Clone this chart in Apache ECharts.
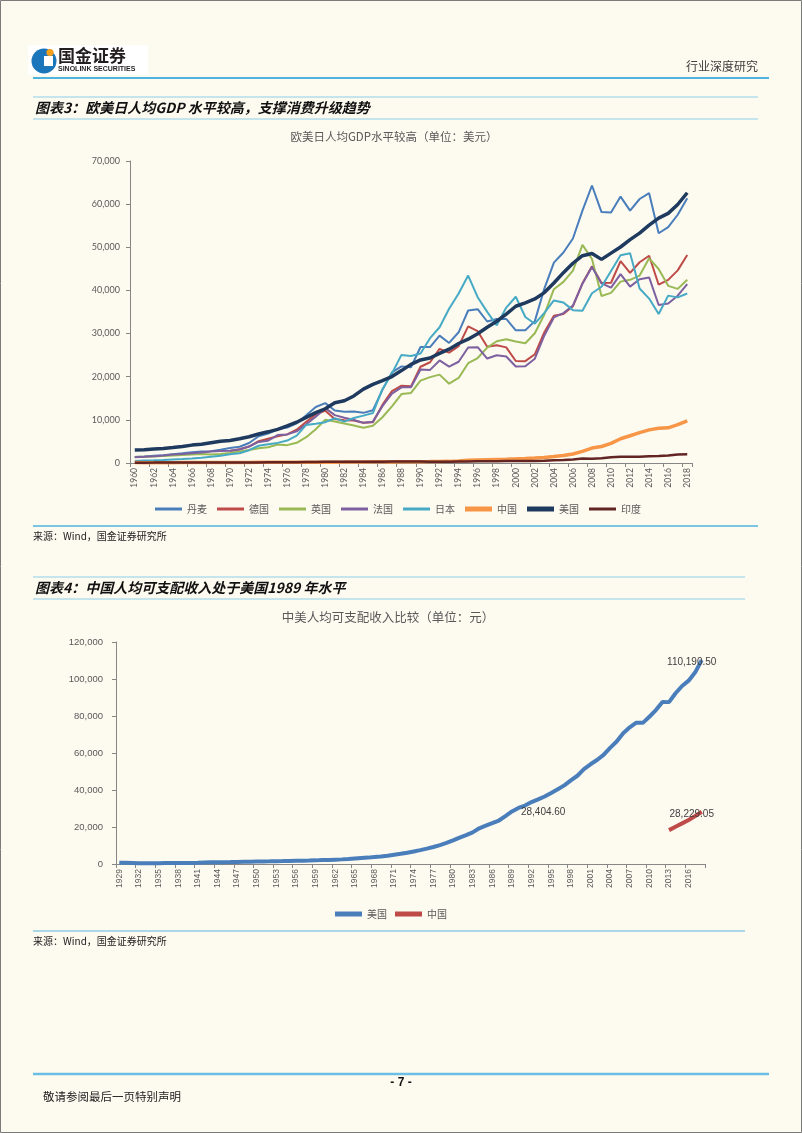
<!DOCTYPE html>
<html><head><meta charset="utf-8">
<script src="https://cdn.jsdelivr.net/npm/echarts@6/dist/echarts.min.js"></script>
<style>html,body{margin:0;padding:0;background:#fdfaf0;overflow:hidden}#c{width:802px;height:1133px}</style>
</head><body><div id="c"></div>
<script>
// ---------- Chart 1 data: GDP per capita (US$) ----------
const years1 = ['1960','1961','1962','1963','1964','1965','1966','1967','1968','1969',
'1970','1971','1972','1973','1974','1975','1976','1977','1978','1979',
'1980','1981','1982','1983','1984','1985','1986','1987','1988','1989',
'1990','1991','1992','1993','1994','1995','1996','1997','1998','1999',
'2000','2001','2002','2003','2004','2005','2006','2007','2008','2009',
'2010','2011','2012','2013','2014','2015','2016','2017','2018'];
const denmark = [1364,1495,1675,1774,2013,2236,2466,2680,2750,3097,
3465,3778,4637,6206,6837,7826,8213,9209,11058,12977,
13883,12172,11894,11939,11626,12216,16961,21004,22396,22194,
26891,26870,29531,27830,30297,35351,35651,32800,33379,33400,
30744,30753,32880,40435,46435,48800,52027,58487,64322,58163,
58041,61754,58507,61191,62549,53255,54664,57545,61350];
const germany = [null,null,null,null,null,null,null,null,null,null,
2761,3195,3810,5047,5639,6221,6634,7712,9539,11232,
12138,10209,9913,9864,9313,9429,13461,16677,17931,17764,
22304,23357,26435,25581,27090,31659,30560,26964,27289,26796,
23636,23608,25197,30310,34107,34520,36354,41640,45613,41732,
41786,46810,44065,46531,48043,41324,42443,44653,48196];
const uk = [1398,1472,1526,1613,1748,1874,1987,2058,1952,2100,
2348,2650,3030,3426,3666,4300,4138,4682,5977,7805,
10032,9599,9146,8691,8179,8652,10611,13119,15987,16239,
19095,19901,20487,18389,19709,23123,24332,26734,28214,28670,
28150,27745,30077,34420,40290,41987,44599,50567,47287,38713,
39436,42038,42463,43445,47440,44966,41064,40361,42491];
const france = [1334,1428,1582,1752,1949,2101,2280,2449,2649,2795,
2858,3140,3820,4893,5165,6479,6634,7342,8970,10742,
12713,11105,10496,9951,9307,9587,13188,16078,17539,17554,
21676,21579,23768,22338,23465,26782,26841,24213,24967,24675,
22364,22433,24177,29568,33742,34760,36470,41557,45413,41631,
40638,43791,40875,42603,43011,36614,36960,38781,41464];
const japan = [479,564,633,717,836,919,1059,1229,1451,1669,
2037,2272,2967,3997,4354,4659,5198,6335,8821,9105,
9463,10361,9578,10425,10984,11585,17112,20745,25052,24813,
25359,28925,31465,35766,39269,43440,38437,35022,31903,36027,
38532,33846,32289,34808,37689,37218,35434,35275,39339,40855,
44508,48168,48603,40454,38109,34524,38794,38387,39290];
const china = [90,76,70,74,85,98,104,97,91,100,
113,119,132,157,160,178,165,185,156,184,
195,197,203,225,251,294,282,251,284,311,
318,333,366,377,473,610,709,782,829,873,
959,1053,1149,1289,1509,1753,2099,2694,3468,3832,
4550,5618,6317,7051,7679,8067,8148,8879,9771];
const usa = [3007,3067,3244,3375,3574,3828,4146,4336,4696,5032,
5234,5609,6094,6726,7226,7801,8592,9453,10565,11674,
12575,13976,14434,15544,17121,18237,19071,20039,21417,22857,
23889,24342,25419,26387,27695,28691,29968,31459,32854,34515,
36335,37133,38023,39497,41712,44115,46299,48050,48570,47195,
48651,50066,51784,53291,55124,56763,57867,59915,62641];
const india = [82,85,90,102,116,119,90,96,99,107,
112,118,123,143,163,158,161,186,206,224,
267,271,274,291,277,296,310,340,354,346,
368,303,317,301,346,374,400,415,413,442,
443,452,471,547,628,715,807,1028,999,1102,
1358,1458,1444,1450,1574,1606,1733,1981,2005];

// ---------- Chart 2 data: disposable income per capita (元) ----------
const years2 = ['1929','1930','1931','1932','1933','1934','1935','1936','1937','1938',
'1939','1940','1941','1942','1943','1944','1945','1946','1947','1948',
'1949','1950','1951','1952','1953','1954','1955','1956','1957','1958',
'1959','1960','1961','1962','1963','1964','1965','1966','1967','1968',
'1969','1970','1971','1972','1973','1974','1975','1976','1977','1978',
'1979','1980','1981','1982','1983','1984','1985','1986','1987','1988',
'1989','1990','1991','1992','1993','1994','1995','1996','1997','1998',
'1999','2000','2001','2002','2003','2004','2005','2006','2007','2008',
'2009','2010','2011','2012','2013','2014','2015','2016','2017','2018'];
const usIncome = [700,620,500,380,350,400,440,500,530,500,
540,580,680,820,920,980,1010,1060,1120,1200,
1200,1300,1400,1460,1530,1560,1640,1740,1810,1860,
1960,2100,2200,2350,2500,2700,2950,3200,3450,3800,
4100,4500,5000,5500,6100,6800,7500,8300,9200,10200,
11400,12800,14300,15600,17100,19300,20700,22100,23500,25900,
28404.60,30300,31600,33500,34900,36500,38400,40400,42500,45200,
47700,51300,53900,56200,59000,62800,66200,70700,73900,76400,
76300,79600,83200,87600,87500,92300,96200,99100,103600,110190.50];
const cnIncomeYears = ['2013','2014','2015','2016','2017','2018'];
const cnIncome = [18311,20167,21966,23821,25974,28229.05];
const usLabelYears = ['1989','2018'];
const cnLabelYears = ['2018'];

const yTicks1 = {min:0, max:70000, interval:10000};
const yTicks2 = {min:0, max:120000, interval:20000};

// ---------- build ----------
const NUM = 'Lato, "Liberation Sans", sans-serif';
const SANS = '"Liberation Sans", Arial, sans-serif';
const CJK = '"Noto Sans CJK SC", sans-serif';
const fmtInt = v => v.toLocaleString('en-US');
const fmtDec = v => v.toLocaleString('en-US',{minimumFractionDigits:2,maximumFractionDigits:2});

const cnIncomeFull = years2.map(y => {
  const i = cnIncomeYears.indexOf(y);
  return i < 0 ? null : cnIncome[i];
});
function labelled(data, yrs, cats) {
  return data.map((v, i) => {
    if (v == null || yrs.indexOf(cats[i]) < 0) return v;
    const last = i === cats.length - 1;
    return {value: v, symbol: 'circle', symbolSize: 0.01,
      label: {show: true, position: last ? 'top' : 'right', distance: 0,
      offset: last ? [-10, 7] : [9, 1],
      formatter: p => fmtDec(p.value), color: '#404040', fontSize: 10, fontFamily: SANS}};
  });
}

const lines1 = [
  ['丹麦', denmark, '#4a7ebb', 2],
  ['德国', germany, '#be4b48', 2],
  ['英国', uk, '#98b954', 2],
  ['法国', france, '#7d60a0', 2],
  ['日本', japan, '#46aac5', 2],
  ['中国', china, '#f79646', 3.5],
  ['美国', usa, '#1f3a5f', 3.5],
  ['印度', india, '#632523', 2.5]
];
const iconPath = w => 'path://M0,0H27V' + w + 'H0Z';

const series = lines1.map(([n, d, c, w]) => ({
  name: n, type: 'line', xAxisIndex: 0, yAxisIndex: 0, data: d, symbol: 'none',
  connectNulls: false, lineStyle: {color: c, width: w}, itemStyle: {color: c}, z: n === '美国' ? 5 : 3
}));
series.push({name: '美国 ', type: 'line', xAxisIndex: 1, yAxisIndex: 1, symbol: 'none', showSymbol: true,
  showAllSymbol: true, clip: false, data: labelled(usIncome, usLabelYears, years2),
  lineStyle: {color: '#4a7ebb', width: 4}, itemStyle: {color: '#4a7ebb'}});
series.push({name: '中国 ', type: 'line', xAxisIndex: 1, yAxisIndex: 1, symbol: 'none', showSymbol: true,
  showAllSymbol: true, clip: false, data: labelled(cnIncomeFull, cnLabelYears, years2),
  lineStyle: {color: '#be4b48', width: 4}, itemStyle: {color: '#be4b48'}});

const axisLineStyle = {show: true, lineStyle: {color: '#868686', width: 1}};

const T = (x, y, text, font, fill, align) => ({type: 'text', x, y,
  style: {text, font, fill, align: align || 'left', verticalAlign: 'middle'}});
const L = (x1, x2, y, color, w) => ({type: 'line', shape: {x1, y1: y, x2, y2: y}, style: {stroke: color, lineWidth: w}});

const option = {
  backgroundColor: '#fdfaf0',
  animation: false,
  grid: [
    {left: 130, top: 161, width: 562, height: 302},
    {left: 116, top: 642, width: 589, height: 222}
  ],
  xAxis: [
    {type: 'category', gridIndex: 0, data: years1, boundaryGap: true, axisLine: axisLineStyle,
      axisTick: {show: true, interval: 1, length: 4, lineStyle: {color: '#868686'}},
      axisLabel: {interval: 1, rotate: 90, fontSize: 8.5, color: '#595959', fontFamily: NUM, margin: 5}},
    {type: 'category', gridIndex: 1, data: years2, boundaryGap: true, axisLine: axisLineStyle,
      axisTick: {show: true, interval: 2, length: 4, lineStyle: {color: '#868686'}},
      axisLabel: {interval: 2, rotate: 90, fontSize: 8.5, color: '#595959', fontFamily: SANS, margin: 5}}
  ],
  yAxis: [
    Object.assign({type: 'value', gridIndex: 0, axisLine: axisLineStyle,
      axisTick: {show: true, length: 4, lineStyle: {color: '#868686'}}, splitLine: {show: false},
      axisLabel: {formatter: fmtInt, fontSize: 9, color: '#595959', fontFamily: NUM, margin: 10}}, yTicks1),
    Object.assign({type: 'value', gridIndex: 1, axisLine: axisLineStyle,
      axisTick: {show: true, length: 4, lineStyle: {color: '#868686'}}, splitLine: {show: false},
      axisLabel: {formatter: fmtInt, fontSize: 9.5, color: '#595959', fontFamily: SANS, margin: 13}}, yTicks2)
  ],
  legend: [
    {data: lines1.map(l => ({name: l[0], icon: iconPath(l[3] > 3 ? 5 : 3)})),
      left: 150, top: 499, itemWidth: 27, itemHeight: 12, itemGap: 10, symbolKeepAspect: true,
      textStyle: {fontSize: 10, color: '#595959', fontFamily: CJK}},
    {data: [{name: '美国 ', icon: iconPath(5)}, {name: '中国 ', icon: iconPath(5)}],
      left: 330, top: 904, itemWidth: 27, itemHeight: 12, itemGap: 8, symbolKeepAspect: true,
      formatter: n => n.trim(), textStyle: {fontSize: 10, color: '#595959', fontFamily: CJK}}
  ],
  series,
  graphic: [
    {type: 'rect', shape: {x: 0.5, y: 0.5, width: 801, height: 1132}, style: {fill: 'none', stroke: '#7a7a7a', lineWidth: 1}, silent: true},
    // logo
    {type: 'rect', shape: {x: 28, y: 45, width: 120, height: 30}, style: {fill: '#ffffff'}},
    {type: 'circle', shape: {cx: 44, cy: 61, r: 12.5}, style: {fill: '#1b75bb'}},
    {type: 'rect', shape: {x: 44, y: 56, width: 9, height: 10}, style: {fill: '#ffffff'}},
    {type: 'circle', shape: {cx: 50, cy: 52.5, r: 3.6}, style: {fill: '#f6a01a'}},
    T(58, 56, '国金证券', 'bold 17px ' + CJK, '#231f20'),
    T(58, 69.5, 'SINOLINK SECURITIES', 'bold 7px ' + SANS, '#231f20'),
    T(758, 66, '行业深度研究', '12px ' + CJK, '#404040', 'right'),
    L(33, 769, 78, '#4fb3e0', 2),
    // section 1
    L(33, 758, 97, '#8fcde6', 1.2),
    L(33, 758, 119, '#8fcde6', 1.2),
    T(35, 108, '图表3：欧美日人均GDP 水平较高，支撑消费升级趋势', 'italic bold 14px ' + CJK, '#111'),
    T(394, 137, '欧美日人均GDP水平较高（单位：美元）', '11.5px ' + CJK, '#595959', 'center'),
    L(33, 758, 526, '#4fb3e0', 1.5),
    T(33, 536, '来源：Wind，国金证券研究所', '10px ' + CJK, '#222'),
    // section 2
    L(33, 745, 577, '#8fcde6', 1.2),
    L(33, 745, 599, '#8fcde6', 1.2),
    T(35, 588, '图表4：中国人均可支配收入处于美国1989 年水平', 'italic bold 14px ' + CJK, '#111'),
    T(388, 617, '中美人均可支配收入比较（单位：元）', '12.5px ' + CJK, '#595959', 'center'),
    L(33, 745, 931, '#8fcde6', 1.5),
    T(33, 941, '来源：Wind，国金证券研究所', '10px ' + CJK, '#222'),
    // footer
    L(33, 769, 1074, '#6cbfe4', 2.5),
    T(401, 1083, '- 7 -', 'bold 12px "Liberation Sans", sans-serif', '#111', 'center'),
    T(43, 1097, '敬请参阅最后一页特别声明', '11.5px ' + CJK, '#222')
  ]
};
const chart = echarts.init(document.getElementById('c'), null, {renderer: 'canvas'});
chart.setOption(option);
</script></body></html>
